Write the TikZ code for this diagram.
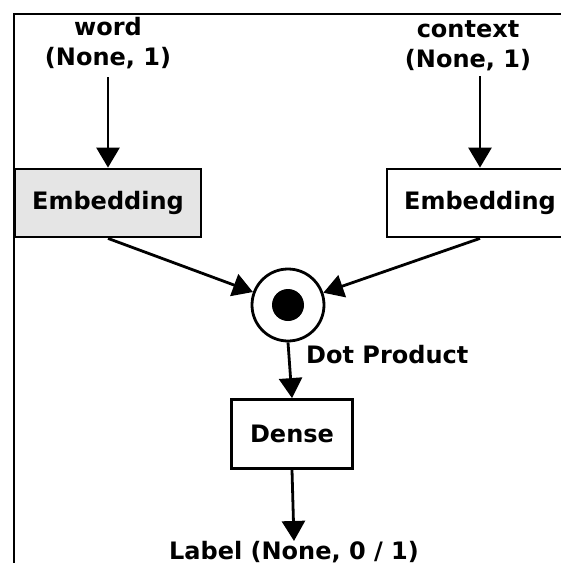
\documentclass[tikz,border=0pt]{standalone}
\usepackage{fontspec}
\setmainfont{DejaVu Sans}
\usetikzlibrary{arrows.meta}
\begin{document}
\begin{tikzpicture}[x=1pt,y=-1pt,
  every node/.style={font=\fontsize{24}{30}\selectfont\bfseries, inner sep=0pt},
  box/.style={draw, line width=2.8pt, minimum height=68pt, align=center},
  lbl/.style={align=center},
  conn/.style={line width=2.8pt, -{Triangle[length=20pt,width=23pt]}},
  frame/.style={line width=1.8pt}]
\useasboundingbox (0,0) rectangle (561,563);
\clip (0,0) rectangle (561,563);
\fill[white] (0,0) rectangle (561,563);
\draw[frame] (14,563) -- (14,14) -- (561,14);
\node[lbl] (word) at (108,43) {word\\(None, 1)};
\node[lbl] (ctx) at (468,46) {context\\(None, 1)};
\coordinate (wordout) at (108,77);
\coordinate (ctxout) at (480,76);
\node[box, minimum width=186pt, fill=black!10] (emb1) at (108,203) {Embedding};
\node[box, minimum width=186pt] (emb2) at (480,203) {Embedding};
\node[draw, circle, line width=2.8pt, minimum size=72pt] (dot) at (288,305) {};
\node[circle, fill=black, minimum size=32pt] (dotin) at (dot.center) {};
\node[anchor=west] (dotlbl) at (306,355) {Dot Product};
\node[box, minimum width=121pt, minimum height=69pt] (dense) at (292,434) {Dense};
\node (out) at (294,552) {Label (None, 0 / 1)};
\draw[conn] (wordout) -- (emb1.north);
\draw[conn] (ctxout) -- (emb2.north);
\draw[conn] (emb1.south) -- (dot);
\draw[conn] (emb2.south) -- (dot);
\draw[conn] (dot.south) -- (dense.north);
\draw[conn] (dense.south) -- (out.north);
\end{tikzpicture}
\end{document}
